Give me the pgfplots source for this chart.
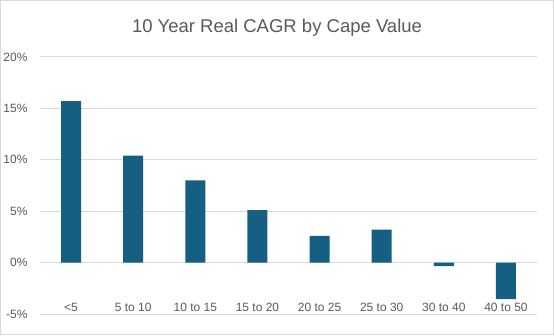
\documentclass[border=0pt]{standalone}
\usepackage{pgfplots}
\pgfplotsset{compat=1.18}
\usepackage{fontspec}
\setmainfont{Liberation Sans}
\definecolor{barblue}{HTML}{156082}
\definecolor{gridgray}{HTML}{D9D9D9}
\definecolor{txtgray}{HTML}{595959}
\begin{document}
\begin{tikzpicture}[x=1pt,y=1pt]
\draw[gridgray, line width=1pt] (0.5,0.5) rectangle (553.5,334.5);
\node[txtgray, font=\fontsize{18.5}{20}\selectfont] at (277,307) {10 Year Real CAGR by Cape Value};
\begin{axis}[
  at={(40pt,21pt)}, anchor=south west,
  scale only axis, width=497pt, height=257pt,
  xmin=-0.5, xmax=7.5, ymin=-5, ymax=20,
  xtick={0,...,7},
  xticklabels={{<5},{5 to 10},{10 to 15},{15 to 20},{20 to 25},{25 to 30},{30 to 40},{40 to 50}},
  ytick={-5,0,5,10,15,20},
  yticklabels={-5\%,0\%,5\%,10\%,15\%,20\%},
  axis line style={draw=none},
  major tick length=0pt,
  ymajorgrids, grid style={gridgray, line width=1pt},
  tick label style={txtgray, font=\fontsize{12}{14}\selectfont},
  yticklabel style={xshift=-9pt},
  xticklabel style={anchor=base, yshift=3pt},
  ybar, bar width=20pt,
  clip=false,
]
\addplot[fill=barblue, draw=none] coordinates {
 (0,15.7) (1,10.4) (2,8.0) (3,5.1) (4,2.6) (5,3.2) (6,-0.35) (7,-3.55)};
\end{axis}
\end{tikzpicture}
\end{document}
